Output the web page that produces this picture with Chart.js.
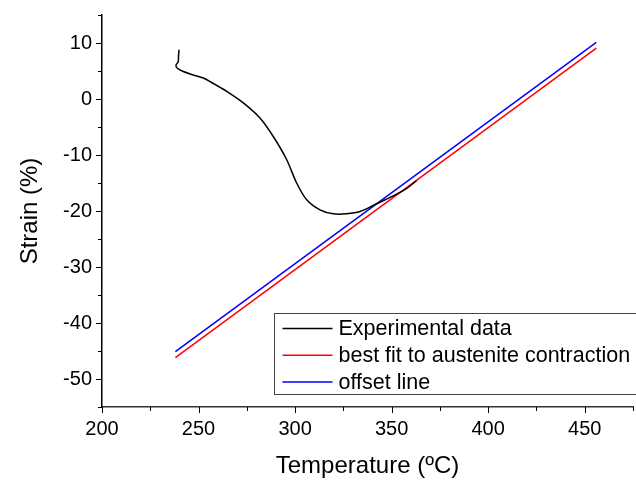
<!DOCTYPE html>
<html>
<head>
<meta charset="utf-8">
<script src="https://cdn.jsdelivr.net/npm/chart.js@4.4.1/dist/chart.umd.min.js"></script>
<style>
  html, body { margin: 0; padding: 0; background: #fff; }
  #wrap { width: 636px; height: 481px; }
</style>
</head>
<body>
<div id="wrap"><canvas id="strainChart" width="636" height="481"></canvas></div>
<script>
// values
var expTemp   = [239.9, 239.6, 239.5, 238.3, 239.0, 242.1, 247.3, 252.5, 258.5, 264.6, 273.2, 281.8, 288.7, 295.6, 300.8, 306.0, 312.9, 319.8, 326.7, 333.6, 342.3, 350.8, 357.7, 362.9];
var expStrain = [8.8, 7.6, 6.7, 6.0, 5.5, 4.9, 4.3, 3.75, 2.6, 1.36, -0.7, -3.4, -6.7, -10.8, -15.0, -18.0, -19.8, -20.5, -20.5, -20.1, -18.7, -17.3, -16.0, -14.6];

var fitTemp   = [238, 456];
var fitStrain = [-46.2, 9.1];

var offTemp   = [238, 456];
var offStrain = [-45.1, 10.1];

var seriesNames = ['Experimental data', 'best fit to austenite contraction', 'offset line'];
var seriesColors = ['#000000', '#ff0000', '#0000ff'];

var xTicks = [200, 250, 300, 350, 400, 450];
var yTicks = [10, 0, -10, -20, -30, -40, -50];

function toPoints(xs, ys) {
    return xs.map(function (x, i) { return {x: x, y: ys[i]}; });
}

var FONT = "'Liberation Sans', Arial, sans-serif";

// ticks (major + minor) and the boxed legend inside the plot
var extras = {
    id: 'extras',
    afterDraw: function (chart) {
        var ctx = chart.ctx;
        var xs = chart.scales.x, ys = chart.scales.y;
        var area = chart.chartArea;
        ctx.save();
        ctx.strokeStyle = '#000';
        ctx.lineWidth = 1;
        for (var v = 200; v <= 475; v += 25) {
            var px = Math.round(xs.getPixelForValue(v)) + 0.5;
            var len = (v % 50 === 0) ? 6 : 4;
            ctx.beginPath();
            ctx.moveTo(px, area.bottom);
            ctx.lineTo(px, area.bottom + len);
            ctx.stroke();
        }
        for (var w = -55; w <= 15; w += 5) {
            var py = Math.round(ys.getPixelForValue(w)) + 0.5;
            var l2 = (w % 10 === 0) ? 6 : 4;
            ctx.beginPath();
            ctx.moveTo(area.left, py);
            ctx.lineTo(area.left - l2, py);
            ctx.stroke();
        }

        // legend box
        var bx = area.left + 172.5, by = area.top + 298.5;
        ctx.strokeStyle = '#444';
        ctx.strokeRect(bx, by, 400, 81);
        ctx.font = '21.5px ' + FONT;
        ctx.textBaseline = 'middle';
        ctx.fillStyle = '#000';
        chart.data.datasets.forEach(function (ds, i) {
            var cy = by + 15 + i * 26.7;
            ctx.strokeStyle = ds.borderColor;
            ctx.lineWidth = 1.5;
            ctx.beginPath();
            ctx.moveTo(bx + 8, cy);
            ctx.lineTo(bx + 58, cy);
            ctx.stroke();
            ctx.fillText(ds.label, bx + 64, cy + 1);
        });
        ctx.restore();
    }
};

var ctx = document.getElementById('strainChart');
var myChart = new Chart(ctx, {
    type: 'line',
    data: {
        datasets: [{
            label: seriesNames[0],
            data: toPoints(expTemp, expStrain),
            borderColor: seriesColors[0],
            borderWidth: 1.5,
            pointRadius: 0,
            tension: 0.3
        }, {
            label: seriesNames[1],
            data: toPoints(fitTemp, fitStrain),
            borderColor: seriesColors[1],
            borderWidth: 1.5,
            pointRadius: 0
        }, {
            label: seriesNames[2],
            data: toPoints(offTemp, offStrain),
            borderColor: seriesColors[2],
            borderWidth: 1.5,
            pointRadius: 0
        }]
    },
    options: {
        responsive: false,
        animation: false,
        layout: { padding: { top: 15, right: 3, left: 0, bottom: 0 } },
        plugins: {
            legend: { display: false },
            tooltip: { enabled: false }
        },
        scales: {
            x: {
                type: 'linear',
                min: 200,
                max: 475,
                afterBuildTicks: function (scale) {
                    scale.ticks = xTicks.map(function (v) { return {value: v}; });
                },
                afterFit: function (scale) {
                    scale.height = 74;
                    scale.paddingLeft = 0;
                    scale.paddingRight = 0;
                },
                grid: { display: false, drawTicks: false },
                border: { display: true, color: '#333', width: 1.5 },
                ticks: { color: '#000', padding: 10, font: { family: FONT, size: 20 } },
                title: {
                    display: true,
                    text: 'Temperature (ºC)',
                    color: '#000',
                    font: { family: FONT, size: 24 },
                    padding: { top: 0, bottom: 0 }
                }
            },
            y: {
                min: -55,
                max: 15,
                afterBuildTicks: function (scale) {
                    scale.ticks = yTicks.map(function (v) { return {value: v}; });
                },
                afterFit: function (scale) {
                    scale.width = 102;
                    scale.paddingTop = 0;
                    scale.paddingBottom = 0;
                },
                grid: { display: false, drawTicks: false },
                border: { display: true, color: '#000', width: 1.5 },
                ticks: { color: '#000', padding: 10, font: { family: FONT, size: 20 } },
                title: {
                    display: true,
                    text: 'Strain (%)',
                    color: '#000',
                    font: { family: FONT, size: 24 },
                    padding: { top: 16, bottom: 0 }
                }
            }
        }
    },
    plugins: [extras]
});
</script>
</body>
</html>
